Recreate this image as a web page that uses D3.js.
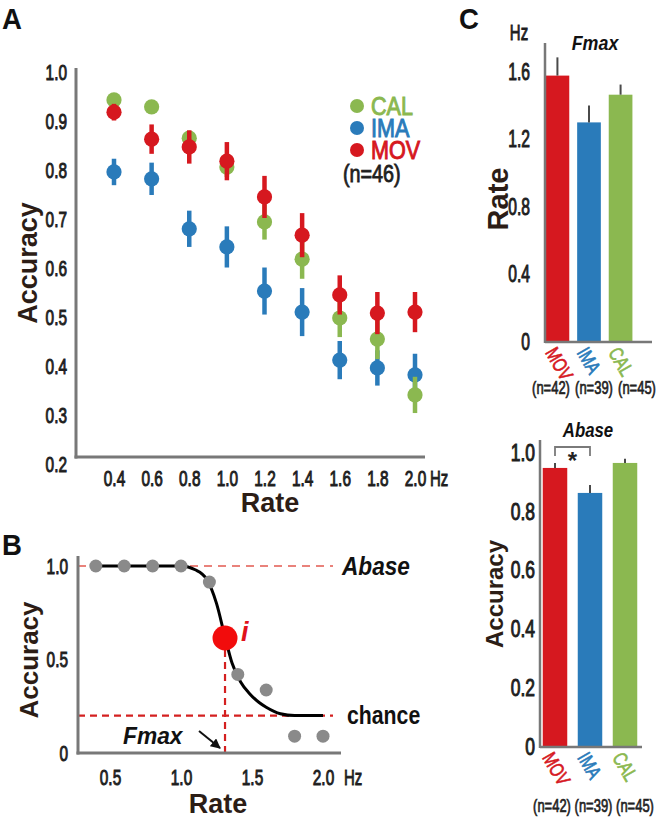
<!DOCTYPE html>
<html><head><meta charset="utf-8">
<script src="https://cdn.jsdelivr.net/npm/d3@7"></script>
<style>body{margin:0;background:#fff}</style>
</head><body><svg id="c" width="656" height="821"></svg>
<script>
// ---------------- Data ----------------
// Panel A
const ratesA = [0.4,0.6,0.8,1.0,1.2,1.4,1.6,1.8,2.0];
const calAcc = [0.943,0.929,0.865,0.806,0.694,0.618,0.498,0.455,0.341];
const calErr = [0.006,0.006,0.012,0.02,0.036,0.04,0.039,0.041,0.037];
const imaAcc = [0.796,0.782,0.680,0.643,0.553,0.510,0.412,0.396,0.382];
const imaErr = [0.027,0.033,0.037,0.042,0.048,0.049,0.039,0.036,0.043];
const movAcc = [0.918,0.863,0.847,0.818,0.745,0.667,0.545,0.508,0.510];
const movErr = [0.017,0.03,0.034,0.039,0.043,0.045,0.04,0.043,0.041];
const yTicksA = [0.2,0.3,0.4,0.5,0.6,0.7,0.8,0.9,1.0];
const legendGroups = ['CAL','IMA','MOV'];
const legendN = '(n=46)';
// Panel B
const ratesB = [0.4,0.6,0.8,1.0,1.2,1.4,1.6,1.8,2.0];
const accB = [1,1,1,1,0.914,0.42,0.337,0.09,0.09];
const fitRates = [0.4,0.8,1.0,1.1,1.18,1.25,1.31,1.36,1.42,1.48,1.55,1.6,1.7,1.8,2.0];
const fitAcc = [1,1,1,0.98,0.93,0.8,0.62,0.48,0.38,0.32,0.27,0.245,0.21,0.2,0.2];
const fmaxB = 1.31, fmaxAccB = 0.615, abaseB = 1.0, chanceB = 0.2;
const xTicksB = [0.5,1.0,1.5,2.0];
const yTicksB = [0,0.5,1.0];
// Panel C
const catsC = ['MOV','IMA','CAL'];
const nC = ['(n=42)','(n=39)','(n=45)'];
const fmaxMean = [1.577,1.30,1.464];
const fmaxErr = [0.108,0.10,0.06];
const abaseMean = [0.949,0.864,0.966];
const abaseErr = [0.017,0.027,0.014];
const yTicksC1 = [0,0.4,0.8,1.2,1.6];
const yTicksC2 = [0,0.2,0.4,0.6,0.8,1.0];

// ---------------- Style ----------------
const COL = {CAL:'#8BB850', IMA:'#2A7BBA', MOV:'#D6181F'};
const AX = '#787878', TXT = '#1e1e1e', TTL = '#2c1d16';
const FONT = "'Liberation Sans', Arial, sans-serif";

const svg = d3.select('#c');
svg.append('rect').attr('width',656).attr('height',821).attr('fill','#fff');

function T(g, x, y, s, o={}) {
  const t = g.append('text')
    .attr('transform', `translate(${x},${y}) rotate(${o.rot||0}) scale(${o.sx||1},1)`)
    .attr('font-family', FONT).attr('font-size', o.size||20)
    .attr('font-weight', o.weight||'normal').attr('font-style', o.style||'normal')
    .attr('fill', o.fill||TXT).attr('text-anchor', o.anchor||'start')
    .attr('dominant-baseline', o.base||'auto').text(s);
  if (o.thick) t.attr('stroke', o.fill||TXT).attr('stroke-width', o.thick);
  return t;
}
function styleTicks(g, size, sx) {
  g.select('.domain').remove();
  g.selectAll('.tick line').remove();
  g.selectAll('.tick text').each(function(){
    const t = d3.select(this);
    const x = +t.attr('x')||0, y = +t.attr('y')||0;
    t.attr('x',null).attr('y',null)
     .attr('transform',`translate(${x},${y}) scale(${sx},1)`)
     .attr('font-size',size).attr('font-family',FONT).attr('fill',TXT)
     .attr('stroke',TXT).attr('stroke-width',1.0);
  });
}
function line(g,x1,y1,x2,y2,stroke,w,dash){
  return g.append('line').attr('x1',x1).attr('y1',y1).attr('x2',x2).attr('y2',y2)
    .attr('stroke',stroke).attr('stroke-width',w).attr('stroke-dasharray',dash||null);
}

// ---------------- Panel A ----------------
const gA = svg.append('g');
const xA = d3.scaleLinear().domain([0.4,2.0]).range([114,415]);
const yA = d3.scaleLinear().domain([0.2,1.0]).range([464,72]);
T(gA, 2, 29, 'A', {size:30, weight:'bold', sx:0.92, fill:'#111'});
line(gA, 76, 68, 76, 458.5, AX, 3);
line(gA, 74.5, 457, 425, 457, AX, 3);
const ayA = gA.append('g').attr('transform','translate(76,0)')
  .call(d3.axisLeft(yA).tickValues(yTicksA).tickFormat(d3.format('.1f')).tickSize(0).tickPadding(9));
styleTicks(ayA, 22, 0.7);
const axA = gA.append('g').attr('transform','translate(0,457)')
  .call(d3.axisBottom(xA).tickValues(ratesA).tickFormat(d3.format('.1f')).tickSize(0).tickPadding(13));
styleTicks(axA, 22, 0.7);
T(gA, 430, 486, 'Hz', {size:22, sx:0.68, thick:0.9});
T(gA, 270, 512, 'Rate', {size:27, weight:'bold', anchor:'middle', fill:TTL});
T(gA, 37, 263, 'Accuracy', {size:27, weight:'bold', anchor:'middle', rot:-90, fill:TTL});

const seriesA = [
  {name:'IMA', acc:imaAcc, err:imaErr},
  {name:'CAL', acc:calAcc, err:calErr},
  {name:'MOV', acc:movAcc, err:movErr}
];
seriesA.forEach(s => {
  const g = gA.append('g');
  g.selectAll('line').data(ratesA).enter().append('line')
    .attr('x1',d=>xA(d)).attr('x2',d=>xA(d))
    .attr('y1',(d,i)=>yA(s.acc[i]+s.err[i])).attr('y2',(d,i)=>yA(s.acc[i]-s.err[i]))
    .attr('stroke',COL[s.name]).attr('stroke-width',4.5);
  g.selectAll('circle').data(ratesA).enter().append('circle')
    .attr('cx',d=>xA(d)).attr('cy',(d,i)=>yA(s.acc[i])).attr('r',7.6)
    .attr('fill',COL[s.name]);
});
// legend
const legY = d3.scalePoint().domain(legendGroups).range([106,150]);
legendGroups.forEach(k => {
  gA.append('circle').attr('cx',357).attr('cy',legY(k)).attr('r',7).attr('fill',COL[k]);
  T(gA, 371, legY(k)+9, k, {size:26, sx:0.83, fill:COL[k], thick:1.0});
});
T(gA, 343, 182, legendN, {size:23, sx:0.86, thick:0.8});

// ---------------- Panel B ----------------
const gB = svg.append('g');
const xB = d3.scaleLinear().domain([0.5,2.0]).range([110,323]);
const yB = d3.scaleLinear().domain([0,1]).range([753,566]);
T(gB, 2, 555, 'B', {size:30, weight:'bold', sx:0.92, fill:'#111'});
line(gB, 78, yB(abaseB), 333, yB(abaseB), '#e25a50', 1.5, '8,6');
line(gB, 78, yB(chanceB), 333, yB(chanceB), '#d42020', 2.2, '7,5');
line(gB, xB(fmaxB), yB(fmaxAccB), xB(fmaxB), 753, '#d42020', 2.2, '7,5');
line(gB, 78, 556, 78, 754.5, AX, 3);
line(gB, 76.5, 753, 341, 753, AX, 3);
const ayB = gB.append('g').attr('transform','translate(78,0)')
  .call(d3.axisLeft(yB).tickValues(yTicksB).tickFormat(d=>d===0?'0':d3.format('.1f')(d)).tickSize(0).tickPadding(10));
styleTicks(ayB, 22, 0.7);
const axB = gB.append('g').attr('transform','translate(0,753)')
  .call(d3.axisBottom(xB).tickValues(xTicksB).tickFormat(d3.format('.1f')).tickSize(0).tickPadding(16));
styleTicks(axB, 22, 0.7);
T(gB, 344, 785, 'Hz', {size:22, sx:0.68, thick:0.9});
T(gB, 218, 813, 'Rate', {size:27, weight:'bold', anchor:'middle', fill:TTL});
T(gB, 38, 660, 'Accuracy', {size:26, weight:'bold', anchor:'middle', rot:-90, fill:TTL});
gB.append('path').datum(fitRates.map((r,i)=>[r,fitAcc[i]]))
  .attr('d', d3.line().x(d=>xB(d[0])).y(d=>yB(d[1])).curve(d3.curveMonotoneX))
  .attr('fill','none').attr('stroke','#000').attr('stroke-width',3);
gB.selectAll('circle.pt').data(ratesB).enter().append('circle').attr('class','pt')
  .attr('cx',d=>xB(d)).attr('cy',(d,i)=>yB(accB[i])).attr('r',6.5).attr('fill','#8a8a8a');
gB.append('circle').attr('cx',xB(fmaxB)).attr('cy',yB(fmaxAccB)).attr('r',12.5).attr('fill','#f20c0c');
T(gB, xB(fmaxB)+16, yB(fmaxAccB)+3, 'i', {size:27, weight:'bold', style:'italic', fill:'#e0121a'});
T(gB, 342, yB(abaseB)+9, 'Abase', {size:26, weight:'bold', style:'italic', sx:0.87, fill:'#111'});
T(gB, 347, yB(chanceB)+8, 'chance', {size:25, weight:'bold', sx:0.85, fill:'#111'});
T(gB, 123, 744, 'Fmax', {size:24, weight:'bold', style:'italic', sx:0.95, fill:'#111'});
svg.append('defs').append('marker').attr('id','ah').attr('viewBox','0 0 10 10')
  .attr('refX',9).attr('refY',5).attr('markerWidth',5).attr('markerHeight',5).attr('orient','auto')
  .append('path').attr('d','M0,0L10,5L0,10z').attr('fill','#111');
line(gB, 199, 731, 220, 748, '#111', 2).attr('marker-end','url(#ah)');

// ---------------- Panel C ----------------
const gC = svg.append('g');
T(gC, 459, 29, 'C', {size:30, weight:'bold', sx:0.92, fill:'#111'});

function barPanel(g, opt) {
  const x = d3.scaleBand().domain(catsC).range(opt.xr).paddingInner(opt.pi).paddingOuter(0.05);
  const y = d3.scaleLinear().domain([0, opt.ymax]).range([opt.y0, opt.ytop]);
  g.selectAll('rect.b'+opt.id).data(catsC).enter().append('rect')
    .attr('x',d=>x(d)).attr('width',x.bandwidth())
    .attr('y',(d,i)=>y(opt.mean[i])).attr('height',(d,i)=>opt.y0-y(opt.mean[i]))
    .attr('fill',d=>COL[d]);
  g.selectAll('line.e'+opt.id).data(catsC).enter().append('line')
    .attr('x1',d=>x(d)+x.bandwidth()/2).attr('x2',d=>x(d)+x.bandwidth()/2)
    .attr('y1',(d,i)=>y(opt.mean[i])).attr('y2',(d,i)=>y(opt.mean[i]+opt.err[i]))
    .attr('stroke','#4a4a4a').attr('stroke-width',2);
  line(g, opt.ax, opt.ytop, opt.ax, opt.y0+1, AX, 2.5);
  line(g, opt.ax, opt.y0, opt.xend, opt.y0, AX, 2.5);
  const ay = g.append('g').attr('transform',`translate(${opt.ax},0)`)
    .call(d3.axisLeft(y).tickValues(opt.ticks).tickFormat(d=>d===0?'0':d3.format('.1f')(d)).tickSize(0).tickPadding(opt.pad));
  styleTicks(ay, 23, opt.tsx);
  catsC.forEach(c => {
    T(g, x(c)+5, opt.y0+7, c, {size:20, sx:0.75, rot:60, fill:COL[c], base:'central', thick:0.7});
  });
  const nx = d3.scalePoint().domain(nC).range(opt.nr);
  nC.forEach(n => T(g, nx(n), opt.ny, n, {size:18, sx:0.72, anchor:'middle', fill:'#222', thick:0.7}));
  return {x, y};
}
const c1 = barPanel(gC, {id:1, xr:[544,634], pi:0.25, ymax:1.77, y0:342, ytop:43,
  ax:545, xend:652, mean:fmaxMean, err:fmaxErr, ticks:yTicksC1, pad:15, tsx:0.68,
  nr:[551,637], ny:394});
T(gC, 519, 40, 'Hz', {size:22, sx:0.68, anchor:'middle', thick:0.9});
T(gC, 595, 50, 'Fmax', {size:21, weight:'bold', style:'italic', sx:0.85, anchor:'middle', fill:'#111'});
T(gC, 508, 199, 'Rate', {size:29, weight:'bold', anchor:'middle', rot:-90, fill:TTL});

const c2 = barPanel(gC, {id:2, xr:[541,639], pi:0.3, ymax:1.044, y0:747, ytop:440,
  ax:540, xend:642, mean:abaseMean, err:abaseErr, ticks:yTicksC2, pad:5, tsx:0.76,
  nr:[552,635], ny:812});
T(gC, 588, 437, 'Abase', {size:21, weight:'bold', style:'italic', sx:0.8, anchor:'middle', fill:'#111'});
T(gC, 503, 594, 'Accuracy', {size:24, weight:'bold', anchor:'middle', rot:-90, fill:TTL});
const bx1 = c2.x('MOV')+c2.x.bandwidth()/2, bx2 = c2.x('IMA')+c2.x.bandwidth()/2;
gC.append('path').attr('d',`M${bx1},456V447H${bx2}V456`).attr('fill','none')
  .attr('stroke','#7a7a7a').attr('stroke-width',1.8);
T(gC, (bx1+bx2)/2, 469, '*', {size:24, weight:'bold', anchor:'middle', fill:'#222'});
</script></body></html>
